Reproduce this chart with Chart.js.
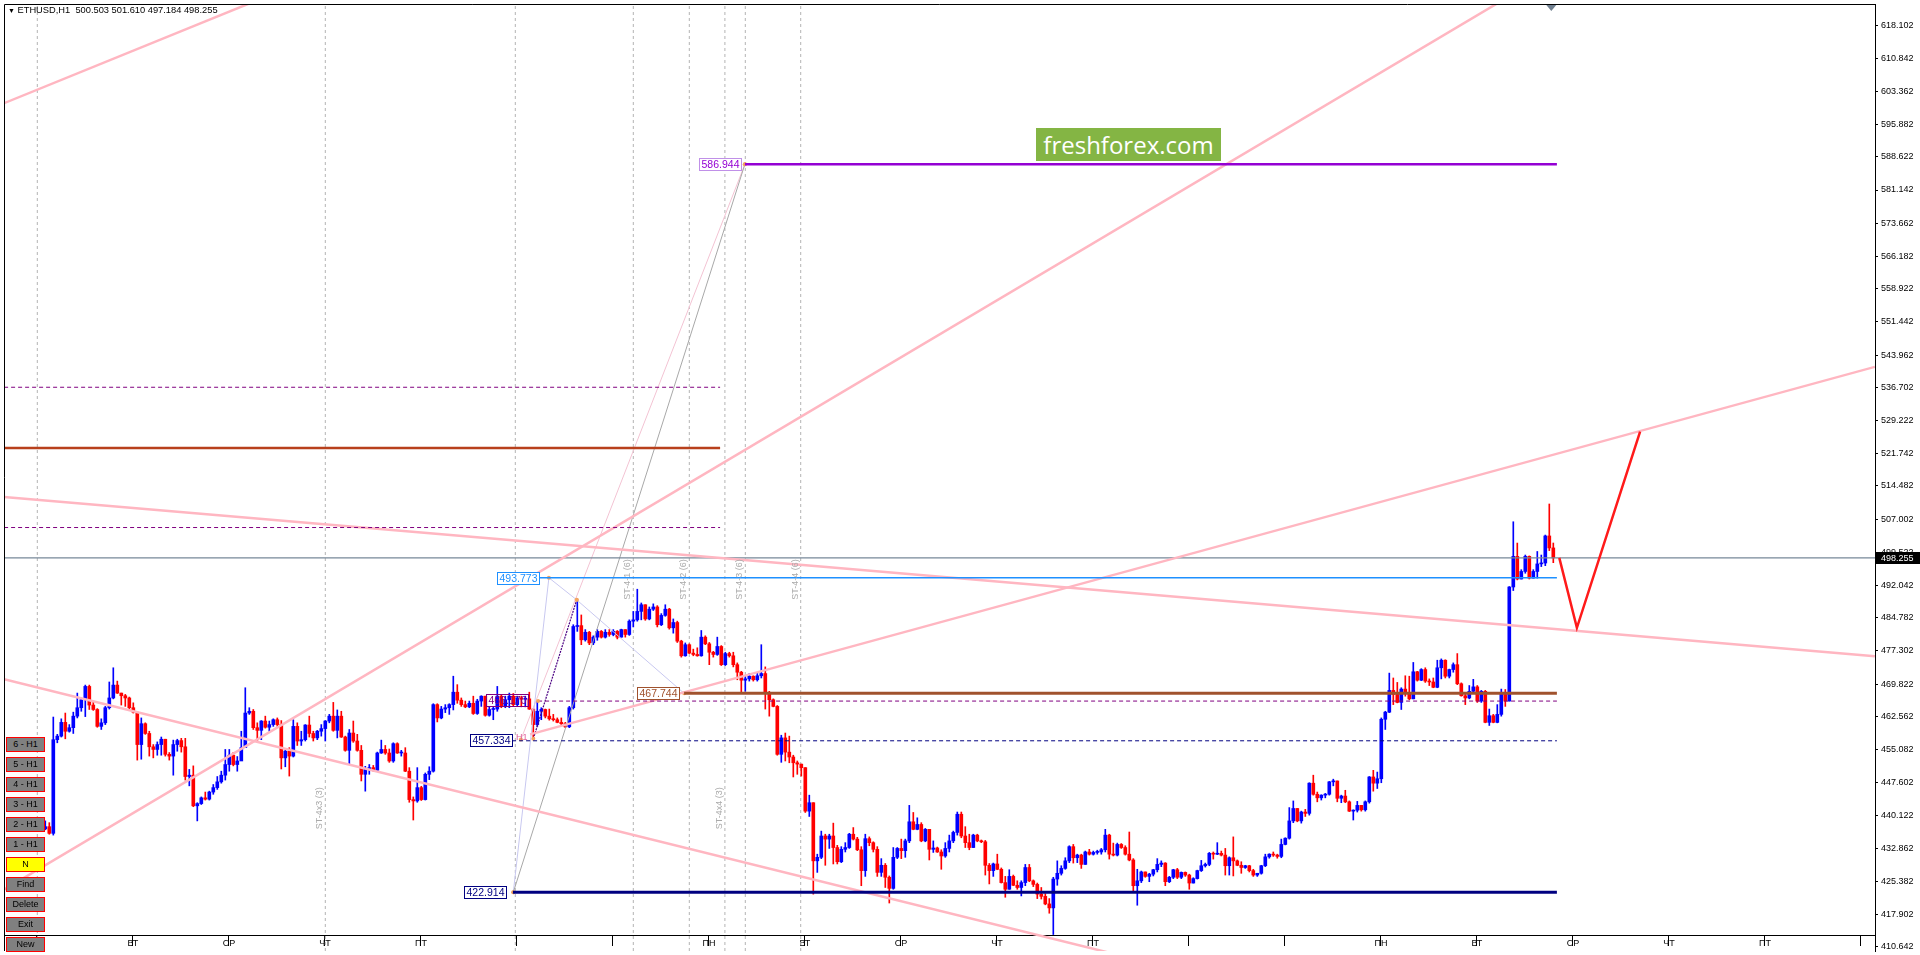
<!DOCTYPE html>
<html>
<head>
<meta charset="utf-8">
<title>ETHUSD,H1</title>
<script src="https://cdn.jsdelivr.net/npm/chart.js@4.4.1/dist/chart.umd.min.js"></script>
<style>
  html, body { margin: 0; padding: 0; background: #fff; overflow: hidden; }
  #wrap { position: relative; width: 1920px; height: 955px; }
  canvas { display: block; }
  #title { position: absolute; left: 8px; top: 5px; font: 9.3px "Liberation Sans", Arial, sans-serif; color: #000; white-space: pre; }
  #title span { font-size: 7px; }
  .btn { position: absolute; left: 6px; width: 37px; height: 13px; background: #808080; border: 1px solid #ff0000;
         font: 9px "Liberation Sans", Arial, sans-serif; color: #000; text-align: center; line-height: 13px; }
  .btn.yellow { background: #ffff00; }
  #logo { position: absolute; left: 1036px; top: 128px; width: 185px; height: 33px; background: #84b544; color: #fff;
          font: 24px "Open Sans", sans-serif; text-align: center; line-height: 33px; }
</style>
</head>
<body>
<div id="wrap">
  <canvas id="chart" width="1920" height="955"></canvas>
  <div id="title"><span>&#9660;</span> ETHUSD,H1  500.503 501.610 497.184 498.255</div>
  <div id="logo">freshforex.com</div>
</div>
<script>
// ETHUSD H1 candles, bar index 0..378 (open = previous close)
const firstOpen = 437.6;
const closes = [
  437.2, 437.7, 436.2, 457.3, 458.1, 461.2, 459.2, 460.0, 462.6, 464.5,
  466.3, 469.3, 465.1, 464.1, 460.3, 461.1, 464.5, 466.7, 469.6, 467.8,
  467.2, 466.7, 464.5, 463.5, 456.2, 460.9, 458.7, 455.7, 455.1, 456.2,
  457.4, 454.0, 453.6, 456.2, 457.1, 455.7, 449.0, 449.3, 442.4, 442.9,
  444.2, 443.9, 445.5, 446.5, 447.8, 449.3, 451.7, 453.8, 451.7, 452.5,
  455.5, 463.3, 463.7, 460.0, 459.4, 461.5, 460.1, 460.7, 461.8, 460.7,
  453.2, 454.7, 453.6, 460.3, 457.0, 457.3, 460.6, 458.7, 457.7, 459.2,
  459.8, 461.5, 462.6, 459.4, 462.6, 457.9, 454.9, 458.8, 457.0, 454.9,
  449.5, 450.6, 451.0, 450.4, 454.3, 455.1, 454.3, 452.5, 456.4, 454.3,
  454.3, 450.2, 443.8, 443.5, 446.5, 443.8, 449.5, 450.2, 465.2, 462.2,
  464.2, 464.5, 465.2, 468.0, 466.2, 465.2, 464.7, 465.5, 463.2, 466.0,
  467.1, 462.8, 464.1, 464.2, 467.1, 464.8, 466.3, 467.1, 465.2, 466.7,
  466.4, 466.5, 464.2, 460.7, 463.7, 464.1, 462.6, 462.0, 461.8, 461.2,
  460.9, 460.2, 464.5, 482.8, 483.0, 479.8, 481.5, 479.1, 480.4, 481.7,
  480.4, 481.5, 481.0, 481.7, 480.4, 482.1, 481.0, 484.0, 484.3, 486.2,
  487.7, 484.5, 486.7, 487.2, 483.2, 485.3, 486.7, 482.5, 483.7, 479.5,
  476.2, 478.7, 476.8, 476.5, 476.2, 480.4, 478.9, 477.0, 476.5, 478.3,
  474.2, 476.7, 476.2, 474.2, 472.5, 470.7, 471.0, 471.6, 470.8, 471.7,
  472.2, 467.8, 466.3, 464.8, 454.0, 457.7, 454.5, 453.4, 452.1, 451.8,
  451.0, 441.2, 443.1, 430.0, 430.8, 435.6, 434.9, 435.6, 433.0, 429.8,
  432.6, 433.0, 436.0, 434.9, 432.5, 427.8, 435.0, 434.1, 432.6, 427.4,
  429.0, 426.3, 423.8, 430.8, 432.8, 432.3, 434.5, 438.8, 437.1, 438.2,
  434.5, 437.1, 432.6, 432.9, 432.0, 431.1, 432.8, 434.5, 436.4, 440.5,
  435.6, 434.1, 433.0, 435.8, 434.5, 434.3, 429.0, 427.8, 429.3, 428.1,
  425.1, 423.6, 426.5, 424.5, 424.0, 425.1, 428.5, 425.5, 424.7, 422.5,
  422.0, 420.3, 419.4, 425.9, 427.2, 428.3, 430.0, 433.2, 430.7, 431.3,
  429.2, 432.0, 431.5, 431.9, 432.0, 432.5, 435.8, 431.5, 431.3, 433.7,
  433.0, 431.5, 430.2, 424.4, 425.5, 427.5, 426.5, 427.0, 428.0, 429.2,
  429.5, 425.3, 426.3, 428.0, 426.3, 427.4, 426.8, 425.0, 426.0, 427.8,
  428.9, 429.2, 431.7, 431.5, 431.7, 431.3, 428.9, 430.7, 430.0, 429.0,
  428.5, 428.9, 427.8, 426.8, 427.2, 428.9, 430.9, 431.5, 431.3, 431.0,
  433.7, 435.1, 439.0, 441.8, 439.0, 441.0, 440.7, 447.5, 445.0, 444.2,
  444.8, 445.0, 447.8, 448.0, 444.1, 444.6, 443.3, 441.2, 441.4, 442.5,
  441.5, 443.3, 448.9, 447.5, 448.5, 461.9, 463.5, 468.4, 467.5, 465.7,
  468.7, 467.7, 466.5, 472.6, 470.7, 473.1, 470.5, 470.3, 469.1, 473.5,
  475.2, 471.6, 473.1, 474.2, 469.9, 467.2, 466.7, 468.2, 469.2, 466.0,
  468.2, 461.2, 462.7, 461.2, 463.0, 467.5, 466.0, 491.7, 498.6, 493.5,
  495.2, 498.6, 493.7, 495.2, 496.9, 497.1, 503.2, 500.503, 498.255
];
const highs = [
  438.0, 439.0, 438.6, 462.4, 458.5, 462.0, 463.3, 460.7, 463.5, 467.8,
  466.7, 469.6, 469.6, 466.0, 464.3, 462.0, 464.8, 470.3, 473.5, 470.5,
  467.8, 467.5, 466.9, 465.6, 463.5, 462.2, 461.1, 459.2, 456.2, 456.8,
  457.9, 457.4, 454.4, 457.2, 457.4, 457.6, 457.6, 450.6, 451.4, 443.1,
  444.4, 445.5, 445.7, 447.2, 449.0, 450.2, 455.1, 455.1, 454.4, 453.5,
  459.2, 469.0, 464.5, 464.1, 461.1, 461.6, 462.6, 461.5, 462.0, 462.2,
  461.6, 454.9, 455.5, 461.8, 461.1, 459.2, 460.7, 462.6, 459.2, 459.4,
  460.7, 461.6, 463.0, 465.7, 464.0, 463.7, 458.1, 459.6, 461.5, 458.5,
  456.0, 451.3, 451.7, 451.5, 454.5, 457.2, 456.0, 455.2, 456.6, 456.6,
  454.9, 455.5, 451.0, 444.4, 451.0, 446.8, 449.8, 451.2, 465.4, 465.4,
  464.8, 465.2, 465.4, 471.6, 469.7, 466.7, 466.0, 466.0, 467.1, 466.4,
  467.2, 467.1, 464.8, 464.8, 469.3, 467.3, 467.1, 467.8, 467.7, 467.1,
  467.1, 467.1, 468.0, 464.2, 466.0, 464.5, 464.2, 464.2, 463.0, 462.2,
  462.2, 461.2, 464.8, 483.2, 488.8, 485.4, 482.1, 481.7, 480.7, 482.1,
  481.9, 482.1, 482.1, 482.1, 481.9, 482.2, 482.1, 484.3, 486.2, 491.2,
  488.1, 487.7, 487.2, 487.9, 487.5, 485.7, 487.7, 486.9, 484.5, 484.0,
  479.7, 479.1, 478.9, 477.7, 478.0, 481.9, 480.7, 479.2, 477.2, 480.4,
  478.5, 477.0, 477.0, 477.0, 474.6, 472.7, 471.7, 472.2, 471.7, 472.3,
  478.7, 473.7, 468.2, 466.5, 465.0, 458.3, 458.8, 458.1, 453.8, 452.5,
  451.8, 451.0, 444.8, 443.1, 431.5, 436.7, 436.0, 436.0, 438.5, 433.5,
  433.2, 434.1, 436.2, 437.5, 435.3, 433.2, 436.0, 435.4, 434.3, 433.2,
  430.5, 429.4, 426.6, 433.0, 433.0, 434.9, 434.9, 442.5, 440.9, 439.7,
  438.6, 437.3, 437.1, 434.5, 433.1, 432.5, 434.1, 435.8, 436.7, 441.0,
  441.0, 437.7, 436.0, 436.0, 436.0, 434.7, 434.6, 429.4, 429.5, 431.5,
  428.4, 426.5, 428.0, 426.8, 425.5, 425.5, 429.2, 429.2, 425.7, 425.0,
  424.0, 422.6, 421.5, 426.3, 430.0, 428.9, 430.7, 433.4, 433.7, 431.5,
  431.5, 432.2, 432.6, 432.2, 432.4, 432.8, 437.1, 436.0, 434.0, 434.0,
  433.9, 433.4, 436.5, 430.5, 428.1, 427.7, 427.5, 427.2, 428.1, 430.5,
  430.0, 429.6, 426.5, 428.1, 428.3, 427.5, 427.5, 427.0, 426.2, 427.9,
  430.1, 429.5, 431.9, 432.0, 434.1, 432.2, 432.8, 430.9, 435.4, 430.2,
  429.8, 429.0, 429.0, 428.1, 427.2, 429.0, 431.5, 431.6, 432.0, 431.5,
  434.9, 435.2, 442.0, 443.5, 441.8, 441.2, 441.6, 447.6, 449.3, 445.5,
  444.9, 445.2, 447.9, 448.4, 448.0, 444.8, 445.9, 443.5, 441.5, 443.4,
  442.5, 443.5, 449.0, 450.4, 450.0, 462.2, 463.7, 472.3, 471.2, 470.2,
  469.0, 471.7, 471.6, 474.7, 472.7, 473.3, 473.5, 471.0, 471.2, 475.2,
  475.5, 475.3, 473.2, 474.6, 476.7, 470.1, 467.5, 469.5, 470.9, 469.5,
  468.4, 468.4, 464.2, 463.0, 465.2, 468.7, 468.6, 491.8, 506.4, 501.6,
  495.6, 498.9, 498.7, 495.6, 499.7, 498.9, 503.4, 510.4, 501.61
];
const lows = [
  436.8, 437.0, 436.0, 435.8, 456.6, 457.9, 457.5, 459.0, 458.7, 462.2,
  463.7, 462.5, 464.1, 463.9, 460.1, 459.6, 460.7, 464.2, 466.5, 467.7,
  465.1, 464.8, 464.2, 463.3, 452.7, 452.9, 458.5, 453.6, 453.2, 453.8,
  453.8, 453.6, 452.7, 449.3, 454.7, 454.5, 448.2, 446.9, 442.2, 439.0,
  442.7, 443.7, 443.7, 445.0, 446.1, 447.5, 448.2, 450.2, 451.4, 450.2,
  452.7, 457.3, 463.0, 459.6, 457.0, 457.3, 459.9, 459.2, 460.3, 460.3,
  450.7, 451.2, 449.1, 453.4, 456.0, 456.0, 457.0, 457.9, 457.0, 457.3,
  458.1, 457.0, 461.1, 459.2, 457.7, 457.8, 454.7, 451.7, 456.7, 454.7,
  448.0, 445.7, 449.5, 450.2, 450.2, 454.2, 454.0, 452.2, 452.2, 454.2,
  453.6, 450.1, 443.2, 439.2, 443.2, 443.6, 443.7, 448.3, 450.0, 461.3,
  462.0, 463.4, 463.0, 464.0, 465.5, 464.8, 464.5, 464.5, 463.0, 463.0,
  464.8, 462.6, 462.6, 461.8, 463.7, 464.5, 464.5, 464.5, 464.8, 464.8,
  464.7, 464.7, 464.1, 457.35, 460.3, 461.8, 462.2, 461.7, 461.5, 461.1,
  460.7, 460.0, 460.0, 464.2, 481.7, 478.7, 479.5, 478.7, 478.7, 479.7,
  480.2, 480.2, 480.6, 480.7, 480.0, 480.4, 480.4, 480.8, 482.7, 484.0,
  484.3, 484.2, 484.3, 486.4, 482.7, 483.0, 485.1, 482.2, 481.3, 479.2,
  475.9, 476.1, 476.7, 476.2, 476.1, 476.1, 478.7, 474.2, 475.9, 476.3,
  474.0, 474.0, 475.9, 473.7, 470.8, 467.8, 468.2, 470.5, 470.5, 470.5,
  471.2, 464.2, 462.6, 464.7, 453.8, 452.2, 452.5, 452.1, 448.9, 449.5,
  449.1, 440.9, 440.0, 422.5, 427.4, 430.5, 429.0, 432.8, 429.3, 429.3,
  429.6, 432.0, 432.8, 434.7, 432.3, 424.4, 426.5, 433.4, 432.0, 426.5,
  426.5, 424.0, 420.5, 423.6, 430.5, 430.5, 430.8, 434.1, 437.0, 437.0,
  434.3, 434.3, 430.2, 431.9, 431.9, 428.1, 430.8, 432.0, 434.1, 435.8,
  435.2, 433.0, 432.5, 433.0, 434.3, 434.1, 426.8, 424.8, 426.5, 428.0,
  425.0, 421.8, 423.6, 424.4, 423.6, 422.1, 424.4, 425.3, 424.2, 421.5,
  421.4, 420.1, 418.2, 413.4, 424.5, 426.8, 428.1, 429.6, 429.5, 429.6,
  428.3, 429.2, 431.3, 431.3, 431.5, 431.5, 432.0, 430.4, 431.1, 431.1,
  432.8, 431.3, 430.0, 423.2, 420.0, 425.1, 426.3, 425.3, 426.6, 427.5,
  428.7, 424.4, 425.1, 426.0, 426.0, 426.0, 426.5, 423.6, 425.0, 425.9,
  427.6, 428.6, 428.9, 430.4, 431.4, 431.1, 426.8, 426.8, 426.6, 428.9,
  427.2, 428.3, 427.5, 426.5, 426.5, 427.0, 428.7, 430.6, 431.0, 430.6,
  430.7, 433.6, 434.9, 438.6, 438.8, 438.5, 440.0, 440.3, 444.8, 443.3,
  443.7, 444.2, 444.8, 446.9, 443.3, 443.1, 443.1, 441.1, 439.2, 441.0,
  441.2, 441.2, 443.0, 445.7, 446.3, 447.6, 459.6, 463.4, 465.2, 465.6,
  464.1, 467.1, 466.3, 466.5, 470.5, 470.6, 470.2, 469.5, 469.0, 469.0,
  471.0, 471.2, 471.2, 472.5, 469.7, 467.1, 465.2, 466.5, 467.8, 465.7,
  465.7, 461.1, 460.5, 461.1, 461.1, 462.6, 464.8, 466.0, 490.9, 493.3,
  493.5, 494.8, 493.5, 493.7, 493.7, 496.3, 496.5, 499.9, 497.18
];

// price scale ticks
const yTicks = [618.102, 610.842, 603.362, 595.882, 588.622, 581.142, 573.662, 566.182, 558.922, 551.442,
  543.962, 536.702, 529.222, 521.742, 514.482, 507.002, 499.522, 492.042, 484.782, 477.302, 469.822,
  462.562, 455.082, 447.602, 440.122, 432.862, 425.382, 417.902, 410.642];
// time scale: day names and bar positions
const dayNames = ['ПН', 'ВТ', 'СР', 'ЧТ', 'ПТ', 'ПН', 'ВТ', 'СР', 'ЧТ', 'ПТ', 'ПН', 'ВТ', 'СР', 'ЧТ', 'ПТ'];
const dayLabelBars = [-1.1, 22.9, 46.9, 70.9, 94.9, 166.9, 190.9, 214.9, 238.9, 262.9, 334.9, 358.9, 382.9, 406.9, 430.9];
const dayTickBars = [10.9, 34.9, 58.9, 82.9, 106.9, 130.9, 154.9, 178.9, 202.9, 226.9, 250.9, 274.9, 298.9,
  322.9, 346.9, 370.9, 394.9, 418.9, 442.9];

// objects on the chart, as [bar, price]
const trendA = [[-9.3, 600.7], [60, 626.1]];
const trendB = [[-9.3, 423.5], [370, 626.4]];
const trendC = [[-9.3, 470.9], [280, 406.4]];
const trendD = [[-9.3, 512.0], [458.4, 476.1]];
const trendE = [[122.2, 458.5], [458.4, 541.3]];
const forecast = [[379.5, 498.255], [383.9, 482.5], [399.7, 526.7]];
const level586 = [[175.9, 586.944], [378.9, 586.944]];
const level423 = [[117.9, 422.914], [378.9, 422.914]];
const level468 = [[160.7, 467.744], [378.9, 467.744]];
const level494 = [[124.4, 493.773], [378.9, 493.773]];
const level523 = [[-9.3, 523.0], [169.7, 523.0]];
const dash537 = [[-9.3, 536.7], [169.7, 536.7]];
const dash505 = [[-9.3, 505.1], [169.7, 505.1]];
const dash466 = [[124.2, 466.0], [378.9, 466.0]];
const dash457 = [[117.7, 457.05], [378.9, 457.05]];
const fibGrey = [[118.0, 422.914], [175.9, 586.944]];
const fibLav = [[118.0, 422.914], [126.9, 493.773], [133.85, 488.8], [160.7, 467.744]];
const fibPink = [[119.9, 457.334], [175.9, 586.944]];
const fibDark = [[123.0, 457.5], [133.85, 488.8]];
const vLines = [-1.0, 71.0, 118.5, 148.0, 162.0, 170.9, 176.0, 189.85];
const vLabels = [
  {t: 'ST-4x3 (3)', x: 71.0, y: 437.1}, {t: 'ST-4-1 (6)', x: 148.0, y: 488.8},
  {t: 'ST-4-2 (6)', x: 162.0, y: 488.8}, {t: 'ST-4x4 (3)', x: 170.9, y: 437.1},
  {t: 'ST-4-3 (6)', x: 176.0, y: 488.8}, {t: 'ST-4-4 (6)', x: 189.85, y: 488.8}
];
const priceBoxes = [
  {t: '586.944', x: 174.9, y: 586.944}, {t: '493.773', x: 124.4, y: 493.773},
  {t: '467.744', x: 159.4, y: 467.744}, {t: '457.334', x: 117.7, y: 457.334},
  {t: '422.914', x: 116.1, y: 422.914}, {t: '466.170', x: 121.7, y: 466.17}
];
const buttons = ['6 - H1', '5 - H1', '4 - H1', '3 - H1', '2 - H1', '1 - H1', 'N', 'Find', 'Delete', 'Exit', 'New'];

const xMin = -9.325, xMax = 458.425;
const yMin = 409.69, yMax = 623.048;
const timeAxisAt = 413.07; // price level where the time scale line sits
const lastClose = closes[closes.length - 1];

buttons.forEach((b, k) => {
  const d = document.createElement('div');
  d.className = 'btn' + (b === 'N' ? ' yellow' : '');
  d.style.top = (737 + 20 * k) + 'px';
  d.textContent = b;
  document.getElementById('wrap').appendChild(d);
});

const opens = closes.map((c, i) => i ? closes[i - 1] : firstOpen);
const candleColors = closes.map((c, i) => c >= opens[i] ? '#0000ff' : '#ff0000');

function line(pts, color, width, dash, order, extra) {
  return Object.assign({
    type: 'line',
    data: pts.map(p => ({x: p[0], y: p[1]})),
    borderColor: color,
    borderWidth: width,
    borderDash: dash || [],
    pointRadius: 0,
    fill: false,
    tension: 0,
    order: order
  }, extra || {});
}
const dots = {pointRadius: 2, pointBackgroundColor: '#f4a460', pointBorderWidth: 0};

const boxColors = ['#9400d3', '#1e90ff', '#a0522d', '#000080', '#000080', '#800080'];
const boxBorders = ['#c090e8', '#1e90ff', '#a0522d', '#000080', '#000080', '#800080'];

const overlay = {
  id: 'overlay',
  afterDatasetsDraw(chart) {
    const {ctx, chartArea: a, scales: {x, y}} = chart;
    ctx.save();
    // frame
    ctx.strokeStyle = '#000';
    ctx.lineWidth = 1;
    ctx.beginPath();
    ctx.moveTo(a.left + 0.5, a.bottom);
    ctx.lineTo(a.left + 0.5, a.top + 0.5);
    ctx.lineTo(a.right, a.top + 0.5);
    ctx.stroke();

    // vertical line descriptions
    ctx.font = '9px "Liberation Sans", Arial, sans-serif';
    ctx.fillStyle = '#aaaaaa';
    ctx.textAlign = 'left';
    ctx.textBaseline = 'bottom';
    vLabels.forEach(l => {
      ctx.save();
      ctx.translate(x.getPixelForValue(l.x) - 1, y.getPixelForValue(l.y));
      ctx.rotate(-Math.PI / 2);
      ctx.fillText(l.t, 0, 0);
      ctx.restore();
    });

    // small object text
    ctx.fillStyle = '#e0609a';
    ctx.textBaseline = 'middle';
    ctx.fillText('6 - H1', x.getPixelForValue(115.4), y.getPixelForValue(457.7));

    // price labels of the levels
    ctx.font = '10.5px "Liberation Sans", Arial, sans-serif';
    ctx.textAlign = 'center';
    priceBoxes.forEach((b, k) => {
      const px = Math.round(x.getPixelForValue(b.x)), py = Math.round(y.getPixelForValue(b.y));
      const w = 42, h = 12;
      if (k < 5) { ctx.fillStyle = '#fff'; ctx.fillRect(px - w, py - h / 2, w, h); }
      ctx.strokeStyle = boxBorders[k];
      ctx.strokeRect(px - w + 0.5, py - h / 2 + 0.5, w, h);
      ctx.fillStyle = boxColors[k];
      ctx.fillText(b.t, px - w / 2 + 0.5, py + 1);
    });
    ctx.restore();
  },
  afterDraw(chart) {
    const {ctx, chartArea: a, scales: {x, y}} = chart;
    ctx.save();
    const py = Math.round(y.getPixelForValue(lastClose));
    ctx.fillStyle = '#000';
    ctx.fillRect(a.right + 1, py - 6, 44, 12);
    ctx.fillStyle = '#fff';
    ctx.font = '9px "Liberation Sans", Arial, sans-serif';
    ctx.textBaseline = 'middle';
    ctx.fillText(lastClose.toFixed(3), a.right + 6, py + 0.5);
    // chart shift marker
    const sx = x.getPixelForValue(377.5);
    ctx.fillStyle = '#708090';
    ctx.beginPath();
    ctx.moveTo(sx - 5, a.top + 1);
    ctx.lineTo(sx + 5, a.top + 1);
    ctx.lineTo(sx, a.top + 7);
    ctx.closePath();
    ctx.fill();
    ctx.restore();
  }
};

Chart.defaults.font.family = '"Liberation Sans", Arial, sans-serif';
Chart.defaults.font.size = 9;
Chart.defaults.color = '#000';

const datasets = [
  // candles
  {type: 'bar', data: closes.map((c, i) => ({x: i, y: [lows[i], highs[i]]})),
   backgroundColor: candleColors, barThickness: 1, grouped: false, borderWidth: 0, order: 20},
  {type: 'bar', data: closes.map((c, i) => ({x: i, y: [Math.min(opens[i], c), Math.max(opens[i], c)]})),
   backgroundColor: candleColors, barThickness: 3, minBarLength: 1, grouped: false, borderWidth: 0, order: 19},
  // trend lines
  line(trendA, '#ffb6c1', 2.5, null, 3),
  line(trendB, '#ffb6c1', 2.5, null, 3),
  line(trendC, '#ffb6c1', 2.5, null, 3),
  line(trendD, '#ffb6c1', 2.5, null, 3),
  line(trendE, '#ffb6c1', 2.5, null, 3),
  line(forecast, '#ff1a1a', 2.5, null, 1),
  // levels
  line(level586, '#9400d3', 2.5, null, 2),
  line(level423, '#000080', 3, null, 2),
  line(level468, '#a0522d', 3, null, 2),
  line(level494, '#1e90ff', 1.5, null, 2),
  line(level523, '#b8401c', 2.5, null, 2),
  line(dash537, '#800080', 1, [4, 3], 2),
  line(dash505, '#800080', 1, [4, 3], 2),
  line(dash466, '#800080', 1, [4, 3], 2, {pointRadius: c => c.dataIndex === 0 ? 2 : 0, pointBackgroundColor: '#f4a460', pointBorderWidth: 0}),
  line(dash457, '#000080', 1, [4, 3], 2),
  line([[xMin, lastClose], [xMax, lastClose]], '#778899', 1.2, null, 4),
  // fibo-like construction lines
  line(fibGrey, '#a8a8a8', 1, null, 5, dots),
  line(fibLav, '#c8c8f0', 1, null, 5, dots),
  line(fibPink, '#f3c3d3', 1, null, 5, dots),
  line(fibDark, '#4b0082', 1.2, [2, 1], 5, dots)
].concat(vLines.map(v => line([[v, yMin], [v, yMax]], '#b4b4b4', 1, [3, 3], 30)));

new Chart(document.getElementById('chart'), {
  type: 'bar',
  data: {datasets},
  options: {
    responsive: false,
    animation: false,
    events: [],
    layout: {padding: {left: 4, top: 3, right: 0, bottom: 3}},
    plugins: {legend: {display: false}, tooltip: {enabled: false}},
    scales: {
      x: {
        type: 'linear', min: xMin, max: xMax, offset: false,
        position: {y: timeAxisAt},
        grid: {display: false, drawTicks: false},
        border: {display: true, color: '#000', width: 1},
        ticks: {autoSkip: false, maxRotation: 0, padding: 2, callback: (v, i) => dayNames[i] || ''},
        afterBuildTicks: s => { s.ticks = dayLabelBars.map(v => ({value: v})); },
        afterFit: s => { s.paddingLeft = 0; s.paddingRight = 0; }
      },
      x2: {
        type: 'linear', min: xMin, max: xMax, offset: false,
        position: {y: timeAxisAt},
        grid: {display: true, drawOnChartArea: false, drawTicks: true, tickLength: 10, color: '#000'},
        border: {display: false},
        ticks: {autoSkip: false, maxRotation: 0, callback: () => ''},
        afterBuildTicks: s => { s.ticks = dayTickBars.map(v => ({value: v})); },
        afterFit: s => { s.paddingLeft = 0; s.paddingRight = 0; }
      },
      y: {
        type: 'linear', position: 'right', min: yMin, max: yMax,
        grid: {display: true, drawOnChartArea: false, drawTicks: true, tickLength: 3, color: '#000'},
        border: {display: true, color: '#000', width: 1},
        ticks: {autoSkip: false, padding: 3, callback: v => v.toFixed(3)},
        afterBuildTicks: s => { s.ticks = yTicks.map(v => ({value: v})); },
        afterFit: s => { s.width = 45; s.paddingTop = 0; s.paddingBottom = 0; }
      }
    }
  },
  plugins: [overlay]
});
</script>
</body>
</html>
